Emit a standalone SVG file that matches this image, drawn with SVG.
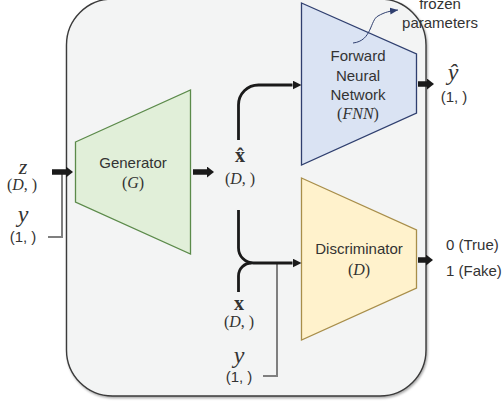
<svg xmlns="http://www.w3.org/2000/svg" width="503" height="401" viewBox="0 0 503 401">
  <style>
    .lbl { font-family: "Liberation Sans", Arial, sans-serif; font-size: 15px; fill: #333; }
    .math { font-family: "Liberation Serif", "DejaVu Serif", serif; fill: #333; }
    .it { font-style: italic; }
    .bold { font-weight: bold; }
    .conn { fill: none; stroke: #1a1a1a; stroke-width: 2.8; }
    .fat { fill: none; stroke: #1a1a1a; stroke-width: 5.5; }
    .aux { fill: none; stroke: #7f7f7f; stroke-width: 2; }
  </style>
  <defs>
    <marker id="head" markerUnits="userSpaceOnUse" viewBox="0 0 9 9" refX="0" refY="4.5" markerWidth="9" markerHeight="9" orient="auto">
      <path d="M0,0 L9,4.5 L0,9 Z" fill="#1a1a1a"/>
    </marker>
    <marker id="fathead" markerUnits="userSpaceOnUse" viewBox="0 0 7 11" refX="0" refY="5.5" markerWidth="7" markerHeight="11" orient="auto">
      <path d="M0,0 L7,5.5 L0,11 Z" fill="#1a1a1a"/>
    </marker>
    <marker id="thin" markerUnits="userSpaceOnUse" viewBox="0 0 8 8" refX="8" refY="4" markerWidth="8" markerHeight="8" orient="auto">
      <path d="M0,0.5 L8,4 L0,7.5 Z" fill="#2f3f6f"/>
    </marker>
    <filter id="shadow" x="-5%" y="-5%" width="110%" height="110%">
      <feDropShadow dx="1" dy="1.5" stdDeviation="0.8" flood-color="#000" flood-opacity="0.35"/>
    </filter>
  </defs>

  <!-- outer frame -->
  <g id="frame">
    <rect x="66.5" y="-1" width="359.5" height="397" rx="46" ry="46" fill="#f3f4f4" stroke="#3a3a3a" stroke-width="1.4" filter="url(#shadow)"/>
  </g>

  <!-- generator -->
  <g id="generator">
    <polygon points="75.5,142 190.5,90 190.5,254 75.5,202" fill="#e1efd9" stroke="#5b8a4a" stroke-width="1.3"/>
    <text class="lbl" x="133" y="168" text-anchor="middle">Generator</text>
    <text class="math" x="133" y="188" text-anchor="middle" font-size="16">(<tspan class="it">G</tspan>)</text>
  </g>

  <!-- forward neural network -->
  <g id="fnn">
    <polygon points="301.5,3 416.5,54 416.5,113 301.5,165" fill="#dae3f3" stroke="#2f3f6f" stroke-width="1.3"/>
    <text class="lbl" x="358" y="61" text-anchor="middle">Forward</text>
    <text class="lbl" x="358" y="81" text-anchor="middle">Neural</text>
    <text class="lbl" x="358" y="100" text-anchor="middle">Network</text>
    <text class="math" x="358" y="119" text-anchor="middle" font-size="16">(<tspan class="it">FNN</tspan>)</text>
  </g>

  <!-- discriminator -->
  <g id="discriminator">
    <polygon points="301.5,178 416.5,230 416.5,288 301.5,340" fill="#fff2cc" stroke="#a88e4a" stroke-width="1.3"/>
    <text class="lbl" x="359" y="254" text-anchor="middle">Discriminator</text>
    <text class="math" x="359" y="275" text-anchor="middle" font-size="16">(<tspan class="it">D</tspan>)</text>
  </g>

  <!-- frozen parameters note -->
  <g id="note">
    <text class="lbl" x="440" y="9" text-anchor="middle">frozen</text>
    <text class="lbl" x="440" y="28" text-anchor="middle">parameters</text>
  </g>

  <!-- inputs and outputs -->
  <g id="io">
    <text class="math it" x="23" y="174" text-anchor="middle" font-size="22">z</text>
    <text class="math" x="22" y="190" text-anchor="middle" font-size="16">(<tspan class="it">D</tspan>, )</text>
    <text class="math it" x="23" y="222" text-anchor="middle" font-size="24">y</text>
    <text class="lbl" x="23" y="242" text-anchor="middle" font-size="15">(1, )</text>

    <text class="math bold" x="240" y="162" text-anchor="middle" font-size="20">x̂</text>
    <text class="math" x="240" y="184" text-anchor="middle" font-size="16">(<tspan class="it">D</tspan>, )</text>

    <text class="math bold" x="239" y="310" text-anchor="middle" font-size="20">x</text>
    <text class="math" x="239" y="327" text-anchor="middle" font-size="16">(<tspan class="it">D</tspan>, )</text>
    <text class="math it" x="239" y="363" text-anchor="middle" font-size="24">y</text>
    <text class="lbl" x="239" y="382" text-anchor="middle" font-size="15">(1, )</text>

    <text class="math it" x="453" y="80" text-anchor="middle" font-size="24">ŷ</text>
    <text class="lbl" x="454" y="102" text-anchor="middle" font-size="15">(1, )</text>

    <text class="lbl" x="446" y="250">0 (True)</text>
    <text class="lbl" x="446" y="276">1 (Fake)</text>
  </g>

  <!-- connectors -->
  <g id="connectors">
    <path class="aux" d="M48,237 H62 V174"/>
    <path class="aux" d="M263,376 H277 V263"/>
    <line class="fat" x1="52" y1="172" x2="66" y2="172" marker-end="url(#fathead)"/>
    <line class="fat" x1="193" y1="172" x2="207" y2="172" marker-end="url(#fathead)"/>
    <line class="fat" x1="418" y1="84" x2="427" y2="84" marker-end="url(#fathead)"/>
    <line class="fat" x1="418" y1="260" x2="426" y2="260" marker-end="url(#fathead)"/>
    <path class="conn" d="M238.5,140 V105 A20,20 0 0 1 258.5,85 H292.5" marker-end="url(#head)"/>
    <path class="conn" d="M238.5,210 V248 A15,15 0 0 0 253.5,263 H292.5" marker-end="url(#head)"/>
    <path class="conn" d="M238.5,292 V276 A13,13 0 0 1 251.5,263"/>
    <path d="M353,43 C372,41 370,20 378,16 C385,12 390,11 398,10" fill="none" stroke="#2f3f6f" stroke-width="1" marker-end="url(#thin)"/>
  </g>
</svg>
